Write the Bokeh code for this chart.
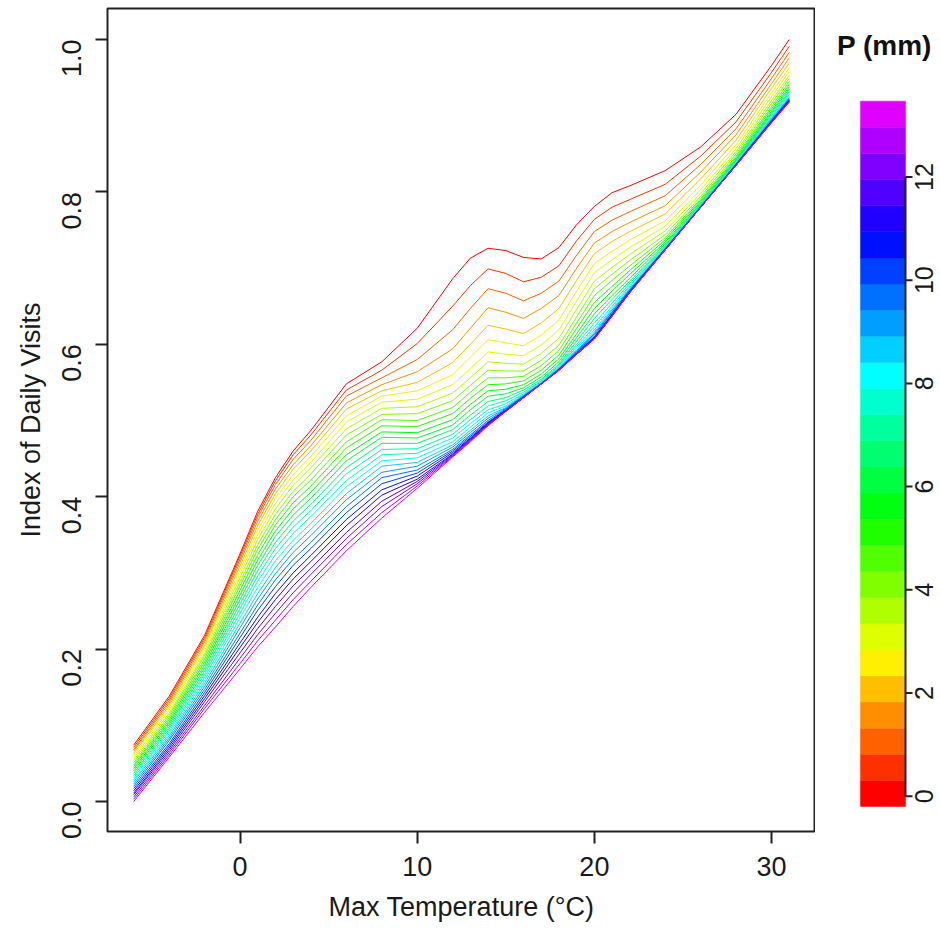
import math
from bokeh.plotting import figure
from bokeh.models import Range1d, FixedTicker, PrintfTickFormatter
from bokeh.core.properties import value
from bokeh.layouts import row
from bokeh.embed import file_html
from bokeh.resources import INLINE

# ---------------- data ----------------
temps = [-6, -4, -2, 0, 1, 2, 3, 4, 6, 8, 10, 12, 13, 14, 15, 16, 17, 18, 19, 20, 21, 22, 24, 26, 28, 30, 31]
p_levels = [0, 0.5, 1, 1.5, 2, 2.5, 3, 3.5, 4, 4.5, 5, 5.5, 6, 6.5, 7, 7.5, 8, 8.5,
            9, 9.5, 10, 10.5, 11, 11.5, 12, 12.5, 13]

# index of daily visits, one list per max temperature (values for P = 0 ... 13 mm)
idx_m6 = [0.074, 0.071, 0.068, 0.066, 0.063, 0.060, 0.057, 0.054, 0.051, 0.048, 0.046, 0.043, 0.040, 0.037, 0.034, 0.031, 0.028, 0.026, 0.023, 0.020, 0.017, 0.014, 0.011, 0.009, 0.006, 0.003, 0.000]
idx_m4 = [0.138, 0.135, 0.132, 0.129, 0.126, 0.123, 0.120, 0.116, 0.113, 0.110, 0.107, 0.104, 0.101, 0.098, 0.095, 0.092, 0.089, 0.086, 0.083, 0.080, 0.076, 0.073, 0.070, 0.067, 0.064, 0.061, 0.058]
idx_m2 = [0.218, 0.215, 0.212, 0.209, 0.205, 0.202, 0.198, 0.194, 0.191, 0.187, 0.183, 0.179, 0.175, 0.171, 0.167, 0.163, 0.159, 0.155, 0.151, 0.147, 0.143, 0.139, 0.135, 0.131, 0.126, 0.122, 0.117]
idx_0 = [0.325, 0.322, 0.318, 0.314, 0.309, 0.304, 0.299, 0.294, 0.288, 0.283, 0.277, 0.271, 0.265, 0.259, 0.253, 0.247, 0.241, 0.234, 0.228, 0.221, 0.215, 0.208, 0.202, 0.195, 0.188, 0.181, 0.174]
idx_1 = [0.381, 0.377, 0.373, 0.368, 0.362, 0.356, 0.350, 0.344, 0.337, 0.331, 0.324, 0.317, 0.310, 0.303, 0.296, 0.289, 0.281, 0.273, 0.266, 0.258, 0.251, 0.242, 0.235, 0.227, 0.219, 0.211, 0.203]
idx_2 = [0.425, 0.421, 0.416, 0.410, 0.404, 0.398, 0.391, 0.384, 0.377, 0.370, 0.363, 0.355, 0.348, 0.340, 0.332, 0.324, 0.316, 0.307, 0.299, 0.291, 0.282, 0.273, 0.265, 0.256, 0.247, 0.238, 0.229]
idx_3 = [0.460, 0.455, 0.449, 0.442, 0.436, 0.429, 0.422, 0.415, 0.407, 0.400, 0.392, 0.384, 0.376, 0.368, 0.360, 0.352, 0.343, 0.335, 0.327, 0.318, 0.310, 0.300, 0.292, 0.283, 0.274, 0.265, 0.256]
idx_4 = [0.487, 0.481, 0.474, 0.467, 0.460, 0.453, 0.445, 0.438, 0.430, 0.422, 0.414, 0.406, 0.398, 0.390, 0.382, 0.374, 0.365, 0.357, 0.349, 0.340, 0.332, 0.323, 0.315, 0.306, 0.298, 0.289, 0.281]
idx_6 = [0.548, 0.540, 0.532, 0.523, 0.515, 0.506, 0.498, 0.489, 0.481, 0.472, 0.464, 0.455, 0.447, 0.438, 0.430, 0.421, 0.413, 0.404, 0.396, 0.387, 0.379, 0.370, 0.362, 0.353, 0.345, 0.337, 0.329]
idx_8 = [0.577, 0.566, 0.556, 0.547, 0.539, 0.532, 0.524, 0.516, 0.508, 0.501, 0.493, 0.485, 0.478, 0.470, 0.462, 0.455, 0.447, 0.440, 0.432, 0.425, 0.417, 0.409, 0.402, 0.394, 0.387, 0.379, 0.372]
idx_10 = [0.621, 0.601, 0.580, 0.564, 0.550, 0.539, 0.528, 0.518, 0.509, 0.500, 0.492, 0.484, 0.477, 0.470, 0.463, 0.457, 0.451, 0.445, 0.440, 0.435, 0.431, 0.427, 0.423, 0.420, 0.417, 0.414, 0.411]
idx_12 = [0.686, 0.650, 0.619, 0.594, 0.576, 0.560, 0.547, 0.536, 0.526, 0.517, 0.509, 0.501, 0.494, 0.488, 0.482, 0.477, 0.472, 0.468, 0.465, 0.462, 0.460, 0.458, 0.456, 0.455, 0.454, 0.453, 0.452]
idx_13 = [0.713, 0.677, 0.647, 0.621, 0.600, 0.583, 0.568, 0.556, 0.546, 0.537, 0.529, 0.521, 0.514, 0.507, 0.501, 0.496, 0.491, 0.487, 0.484, 0.481, 0.479, 0.477, 0.476, 0.475, 0.474, 0.473, 0.472]
idx_14 = [0.726, 0.699, 0.673, 0.648, 0.625, 0.606, 0.590, 0.577, 0.566, 0.556, 0.547, 0.539, 0.532, 0.525, 0.519, 0.514, 0.510, 0.506, 0.503, 0.500, 0.498, 0.497, 0.496, 0.495, 0.494, 0.494, 0.493]
idx_15 = [0.723, 0.693, 0.667, 0.642, 0.620, 0.602, 0.587, 0.575, 0.565, 0.556, 0.548, 0.541, 0.535, 0.530, 0.526, 0.522, 0.519, 0.517, 0.516, 0.515, 0.514, 0.513, 0.513, 0.512, 0.512, 0.512, 0.512]
idx_16 = [0.714, 0.682, 0.657, 0.634, 0.614, 0.598, 0.585, 0.574, 0.565, 0.558, 0.552, 0.547, 0.543, 0.540, 0.537, 0.535, 0.534, 0.533, 0.532, 0.532, 0.531, 0.531, 0.530, 0.530, 0.530, 0.530, 0.530]
idx_17 = [0.712, 0.688, 0.667, 0.647, 0.628, 0.612, 0.599, 0.588, 0.579, 0.572, 0.566, 0.561, 0.557, 0.554, 0.552, 0.551, 0.550, 0.549, 0.549, 0.548, 0.548, 0.548, 0.548, 0.548, 0.548, 0.548, 0.548]
idx_18 = [0.727, 0.703, 0.683, 0.664, 0.647, 0.632, 0.619, 0.608, 0.599, 0.592, 0.586, 0.581, 0.577, 0.574, 0.572, 0.570, 0.569, 0.568, 0.568, 0.567, 0.567, 0.567, 0.566, 0.566, 0.566, 0.566, 0.566]
idx_19 = [0.757, 0.736, 0.717, 0.700, 0.684, 0.670, 0.657, 0.646, 0.636, 0.628, 0.621, 0.614, 0.609, 0.604, 0.600, 0.597, 0.594, 0.592, 0.591, 0.590, 0.589, 0.588, 0.587, 0.587, 0.587, 0.587, 0.587]
idx_20 = [0.781, 0.764, 0.748, 0.733, 0.719, 0.706, 0.694, 0.683, 0.673, 0.664, 0.655, 0.647, 0.640, 0.634, 0.628, 0.623, 0.619, 0.616, 0.614, 0.612, 0.610, 0.609, 0.608, 0.608, 0.607, 0.607, 0.607]
idx_21 = [0.799, 0.780, 0.763, 0.748, 0.735, 0.722, 0.711, 0.701, 0.692, 0.684, 0.676, 0.670, 0.664, 0.659, 0.654, 0.650, 0.647, 0.645, 0.643, 0.642, 0.640, 0.639, 0.638, 0.638, 0.637, 0.637, 0.637]
idx_22 = [0.808, 0.790, 0.774, 0.760, 0.748, 0.737, 0.727, 0.718, 0.710, 0.703, 0.697, 0.692, 0.687, 0.683, 0.680, 0.677, 0.675, 0.673, 0.672, 0.671, 0.670, 0.669, 0.669, 0.668, 0.668, 0.668, 0.668]
idx_24 = [0.828, 0.810, 0.795, 0.782, 0.771, 0.762, 0.755, 0.749, 0.744, 0.740, 0.737, 0.734, 0.732, 0.730, 0.729, 0.728, 0.727, 0.726, 0.726, 0.725, 0.725, 0.725, 0.724, 0.724, 0.724, 0.724, 0.724]
idx_26 = [0.859, 0.847, 0.836, 0.826, 0.817, 0.809, 0.803, 0.798, 0.794, 0.791, 0.789, 0.787, 0.785, 0.784, 0.783, 0.782, 0.782, 0.781, 0.781, 0.781, 0.780, 0.780, 0.780, 0.780, 0.780, 0.780, 0.780]
idx_28 = [0.902, 0.892, 0.883, 0.875, 0.868, 0.862, 0.857, 0.853, 0.850, 0.847, 0.845, 0.843, 0.842, 0.841, 0.840, 0.839, 0.838, 0.837, 0.837, 0.836, 0.836, 0.836, 0.835, 0.835, 0.835, 0.835, 0.835]
idx_30 = [0.966, 0.957, 0.949, 0.942, 0.936, 0.930, 0.925, 0.920, 0.916, 0.912, 0.909, 0.906, 0.904, 0.902, 0.900, 0.898, 0.897, 0.896, 0.895, 0.894, 0.893, 0.893, 0.892, 0.892, 0.891, 0.891, 0.891]
idx_31 = [1.000, 0.991, 0.983, 0.976, 0.969, 0.963, 0.958, 0.953, 0.949, 0.945, 0.941, 0.938, 0.935, 0.932, 0.930, 0.928, 0.926, 0.924, 0.923, 0.922, 0.921, 0.920, 0.920, 0.919, 0.919, 0.918, 0.918]

columns = [idx_m6, idx_m4, idx_m2, idx_0, idx_1, idx_2, idx_3, idx_4, idx_6, idx_8, idx_10,
           idx_12, idx_13, idx_14, idx_15, idx_16, idx_17, idx_18, idx_19, idx_20, idx_21,
           idx_22, idx_24, idx_26, idx_28, idx_30, idx_31]

colorbar_ticks = [0, 2, 4, 6, 8, 10, 12]
colorbar_tick_labels = ["0", "2", "4", "6", "8", "10", "12"]
colorbar_low, colorbar_high = -0.2, 13.47

# rainbow palette (red -> magenta), one colour per P level
palette = ["#FF0000", "#FF3000", "#FF6000", "#FF8F00", "#FFBF00", "#FFEF00", "#DFFF00",
           "#AFFF00", "#80FF00", "#50FF00", "#20FF00", "#00FF10", "#00FF40", "#00FF70",
           "#00FF9F", "#00FFCF", "#00FFFF", "#00CFFF", "#009FFF", "#0070FF", "#0040FF",
           "#0010FF", "#2000FF", "#5000FF", "#8000FF", "#AF00FF", "#DF00FF"]

FONT = "Liberation Sans"
TXT = "#1a1a1a"
DARK = "#222222"

# ---------------- main plot ----------------
p = figure(width=815, height=930, x_range=Range1d(-7.48, 32.48),
           y_range=Range1d(-0.0394, 1.0407), output_backend="svg",
           toolbar_location=None, min_border_left=107, min_border_right=0,
           min_border_top=8, min_border_bottom=99)
p.background_fill_color = "white"
p.border_fill_color = "white"
p.outline_line_color = DARK
p.outline_line_width = 2
p.xgrid.visible = False
p.ygrid.visible = False

for i, lvl in enumerate(p_levels):
    ys = [col[i] for col in columns]
    p.line(temps, ys, line_color=palette[i], line_width=1)

for ax in (p.xaxis[0], p.yaxis[0]):
    ax.axis_line_color = None
    ax.major_tick_in = 0
    ax.major_tick_out = 12
    ax.major_tick_line_width = 2
    ax.major_tick_line_color = DARK
    ax.minor_tick_line_color = None
    ax.major_label_text_font = FONT
    ax.major_label_text_font_size = "27px"
    ax.major_label_text_color = TXT
    ax.axis_label_text_font = FONT
    ax.axis_label_text_font_size = "27px"
    ax.axis_label_text_font_style = "normal"
    ax.axis_label_text_color = TXT

p.xaxis[0].ticker = FixedTicker(ticks=[0, 10, 20, 30])
p.xaxis[0].axis_label = "Max Temperature (°C)"
p.xaxis[0].major_label_standoff = 13
p.xaxis[0].axis_label_standoff = 13

p.yaxis[0].ticker = FixedTicker(ticks=[0, 0.2, 0.4, 0.6, 0.8, 1.0])
p.yaxis[0].formatter = PrintfTickFormatter(format="%.1f")
p.yaxis[0].major_label_orientation = math.pi / 2
p.yaxis[0].axis_label = "Index of Daily Visits"
p.yaxis[0].major_label_standoff = 24
p.yaxis[0].axis_label_standoff = 4

# ---------------- colour bar (same frame height as the main plot) ----------------
# x range is expressed in page pixels of this 125 px wide strip (815 .. 940)
c = figure(width=125, height=930, x_range=Range1d(815, 940),
           y_range=Range1d(-0.684, 15.265), output_backend="svg",
           toolbar_location=None, x_axis_location=None, y_axis_location=None,
           min_border_left=0, min_border_right=0, min_border_top=8,
           min_border_bottom=99)
c.outline_line_color = None
c.xgrid.visible = False
c.ygrid.visible = False
c.background_fill_color = "white"
c.border_fill_color = "white"

n = len(p_levels)
step = (colorbar_high - colorbar_low) / n
bottoms = [colorbar_low + k * step for k in range(n)]
tops = [b + step for b in bottoms]
bar_left, bar_right = 860, 905
c.quad(left=bar_left, right=bar_right, bottom=bottoms, top=tops, fill_color=palette,
       line_color=palette, line_width=0.5)

# axis line, ticks and rotated labels of the colour bar
c.segment(x0=[bar_right], y0=[colorbar_ticks[0]], x1=[bar_right], y1=[colorbar_ticks[-1]],
          line_color=DARK, line_width=2)
c.segment(x0=[bar_right] * len(colorbar_ticks), y0=colorbar_ticks,
          x1=[bar_right + 7] * len(colorbar_ticks), y1=colorbar_ticks,
          line_color=DARK, line_width=2)
c.text(x=[932] * len(colorbar_ticks), y=colorbar_ticks, text=colorbar_tick_labels,
       angle=math.pi / 2, text_align="center", text_baseline="bottom",
       text_font=value(FONT), text_font_size="25px", text_color=TXT)
c.text(x=[884], y=[14.55], text=["P (mm)"], text_align="center", text_baseline="middle",
       text_font=value(FONT), text_font_size="28px", text_font_style="bold",
       text_color="#111111")

layout = row(p, c)
open("out.html", "w").write(file_html(layout, INLINE))
